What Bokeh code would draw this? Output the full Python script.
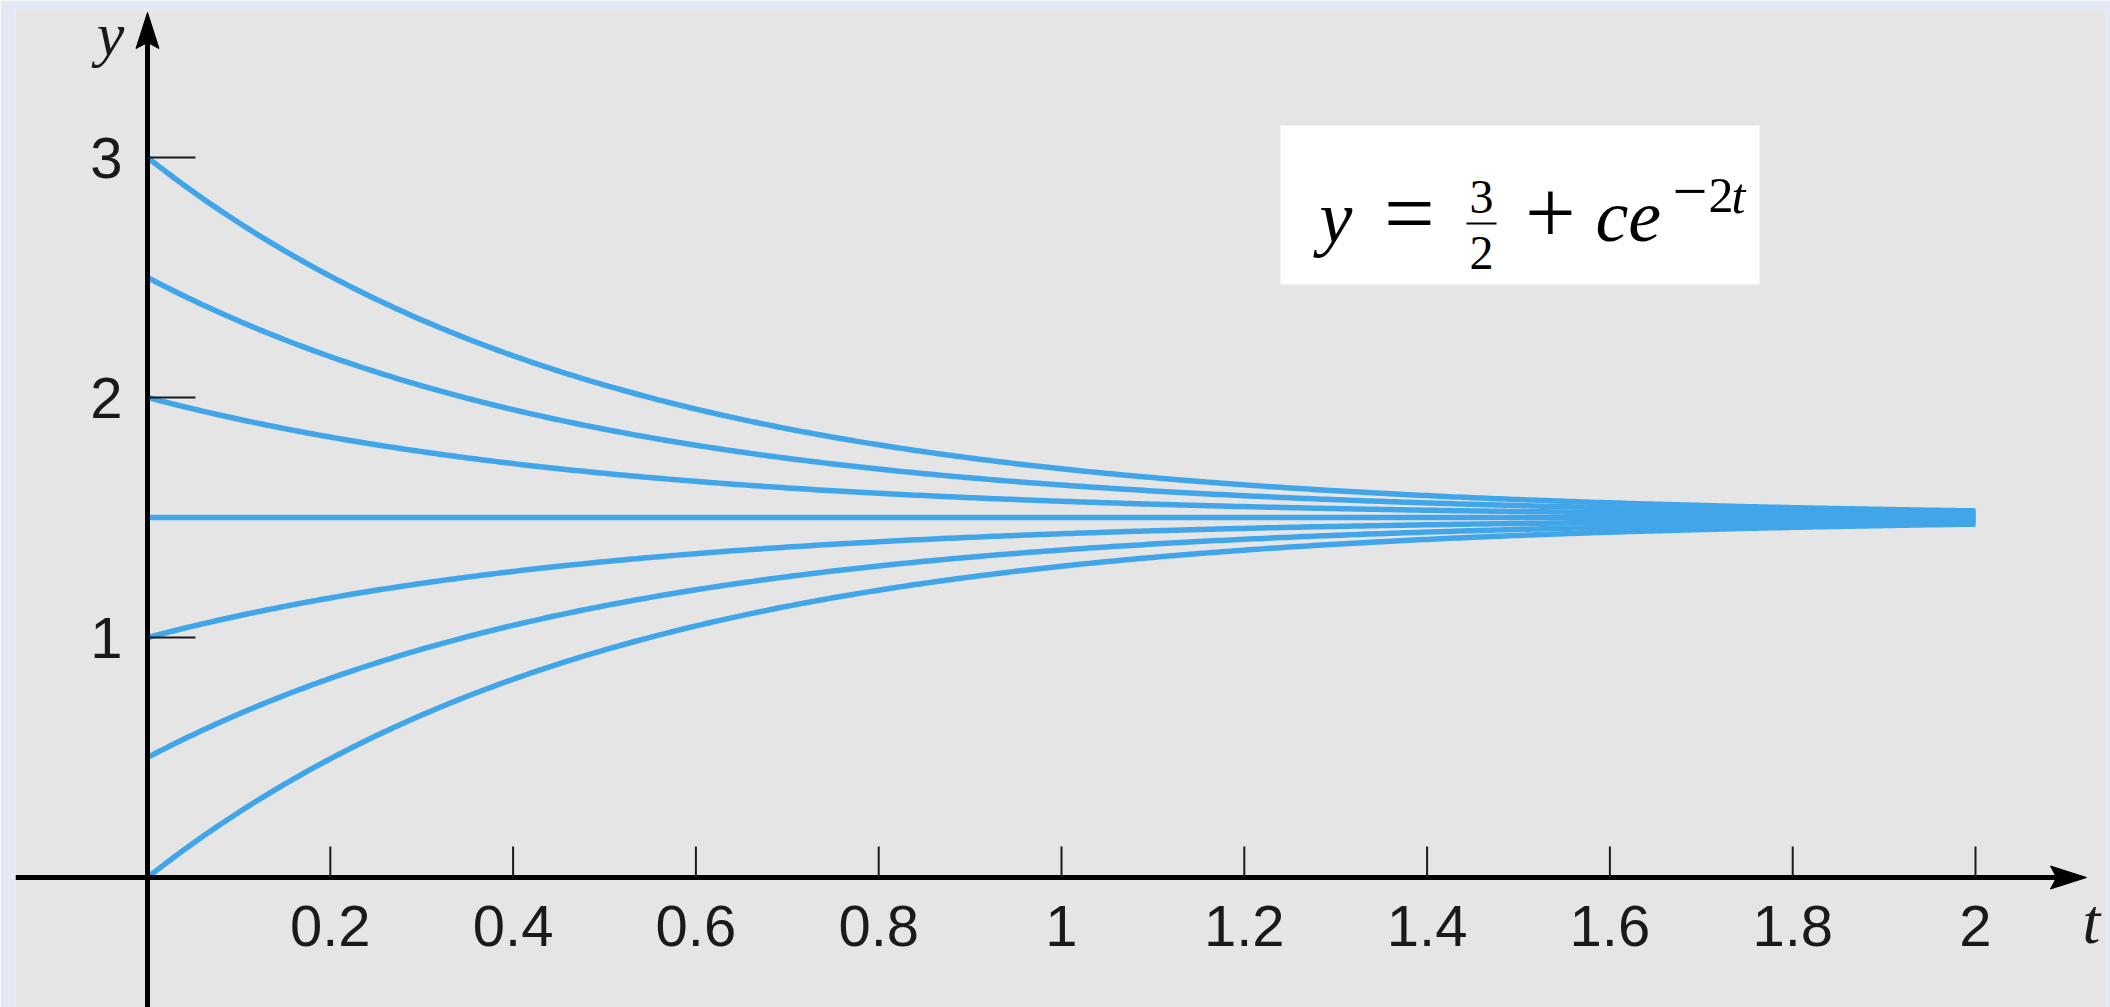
import numpy as np
from bokeh.plotting import figure
from bokeh.models import Range1d, BoxAnnotation
from bokeh.core.properties import value
from bokeh.embed import file_html
from bokeh.resources import INLINE

# ---------------- data ----------------
c_values = [1.5, 1.0, 0.5, 0.0, -0.5, -1.0, -1.5]   # y(0) = 3, 2.5, 2, 1.5, 1, 0.5, 0
t_start, t_end = 0.0, 2.0
equilibrium = 1.5
x_ticks = [0.2, 0.4, 0.6, 0.8, 1.0, 1.2, 1.4, 1.6, 1.8, 2.0]
x_tick_labels = ["0.2", "0.4", "0.6", "0.8", "1", "1.2", "1.4", "1.6", "1.8", "2"]
y_ticks = [1, 2, 3]
y_tick_labels = ["1", "2", "3"]

# ---------------- layout helpers (page pixels -> data) ----------------
PX_X, PX_Y = 914.0, 240.0        # pixels per unit
X0_PAGE, Y0_PAGE = 147.0, 877.0  # page position of origin
W, H = 2110, 1007
BL, BR, BT, BB = 15, 5, 10, 0
frame_left, frame_right = BL, W - BR
frame_top, frame_bottom = BT, H - BB
BASE_FIX = 0.36                  # baseline correction (fraction of font size)

def px2x(px):
    return (px - X0_PAGE) / PX_X

def py2y(py):
    return (Y0_PAGE - py) / PX_Y

x_range = Range1d(px2x(frame_left), px2x(frame_right))
y_range = Range1d(py2y(frame_bottom), py2y(frame_top))

p = figure(width=W, height=H, x_range=x_range, y_range=y_range,
           output_backend="svg", toolbar_location=None,
           x_axis_type=None, y_axis_type=None,
           min_border_left=BL, min_border_right=BR,
           min_border_top=BT, min_border_bottom=BB)
p.grid.visible = False
p.outline_line_color = None
p.background_fill_color = "#e5e5e5"
p.border_fill_color = "#e3eaf5"

BLUE = "#41a6e9"
SANS = value("Liberation Sans")
SERIF = value("Liberation Serif")
INK = "#1a1a1a"

# ---------------- curves ----------------
t = np.linspace(t_start, t_end, 401)
xs = [t.tolist() for _ in c_values]
ys = [(equilibrium + c * np.exp(-2 * t)).tolist() for c in c_values]
p.multi_line(xs=xs, ys=ys, line_color=BLUE, line_width=5.5, line_cap="butt",
             line_join="round")

# ---------------- axes ----------------
TIPX, TIPY = 2086, 12
p.segment(x0=[x_range.start], y0=[0], x1=[px2x(TIPX - 30)], y1=[0],
          line_color="black", line_width=5)
p.segment(x0=[0], y0=[y_range.start], x1=[0], y1=[py2y(TIPY + 30)],
          line_color="black", line_width=5)
hx = [[px2x(TIPX), px2x(TIPX - 36), px2x(TIPX - 30), px2x(TIPX - 36)]]
hy = [[0, 11.5 / PX_Y, 0, -11.5 / PX_Y]]
p.patches(xs=hx, ys=hy, fill_color="black", line_color="black", line_width=1)
vx = [[0, -11.5 / PX_X, 0, 11.5 / PX_X]]
vy = [[py2y(TIPY), py2y(TIPY + 36), py2y(TIPY + 30), py2y(TIPY + 36)]]
p.patches(xs=vx, ys=vy, fill_color="black", line_color="black", line_width=1)

# ticks
p.segment(x0=x_ticks, y0=[0] * len(x_ticks), x1=x_ticks,
          y1=[31 / PX_Y] * len(x_ticks), line_color=INK, line_width=2)
p.segment(x0=[0] * len(y_ticks), y0=y_ticks, x1=[48 / PX_X] * len(y_ticks),
          y1=y_ticks, line_color=INK, line_width=2)

# tick labels
LBL = 58
p.text(x=x_ticks, y=[py2y(946 - BASE_FIX * LBL)] * len(x_ticks), text=x_tick_labels,
       text_font=SANS, text_font_size=f"{LBL}px", text_color=INK,
       text_align="center", text_baseline="alphabetic")
p.text(x=[px2x(122)] * len(y_ticks),
       y=[v - (21 - BASE_FIX * LBL) / PX_Y for v in y_ticks],
       text=y_tick_labels, text_font=SANS, text_font_size=f"{LBL}px",
       text_color=INK, text_align="right", text_baseline="alphabetic")

# ---------------- formula box ----------------
p.add_layout(BoxAnnotation(left=px2x(1280), right=px2x(1759),
                           top=py2y(125), bottom=py2y(284),
                           fill_color="white", fill_alpha=1.0,
                           line_color=None, level="underlay"))

def put(txt, px, py, font, size, style="normal", align="left", color="black"):
    p.text(x=[px2x(px)], y=[py2y(py - BASE_FIX * size)], text=[txt],
           text_font=font, text_font_style=style, text_font_size=f"{size}px",
           text_color=color, text_align=align, text_baseline="alphabetic")

# axis names
put("y", 110, 56, SERIF, 62, "italic", "center", INK)
put("t", 2091, 944, SERIF, 64, "italic", "center", INK)

# formula  y = 3/2 + c e^{-2t}
put("y", 1319, 243, SERIF, 74, "italic")
put("=", 1409, 245, SERIF, 90, align="center")
put("3", 1481, 214, SERIF, 48, align="center")
p.segment(x0=[px2x(1466)], y0=[py2y(223)], x1=[px2x(1496)], y1=[py2y(223)],
          line_color="black", line_width=2)
put("2", 1481, 270, SERIF, 48, align="center")
put("+", 1550, 245, SERIF, 90, align="center")
put("ce", 1595, 242, SERIF, 74, "italic")
put("\u2212", 1672, 214, SERIF, 62)
put("2", 1708, 213, SERIF, 50)
put("t", 1731, 213, SERIF, 50, "italic")

html = file_html(p, INLINE)
html = html.replace("<body>", '<body style="background-color:#e3eaf5;">', 1)
open("out.html", "w").write(html)
